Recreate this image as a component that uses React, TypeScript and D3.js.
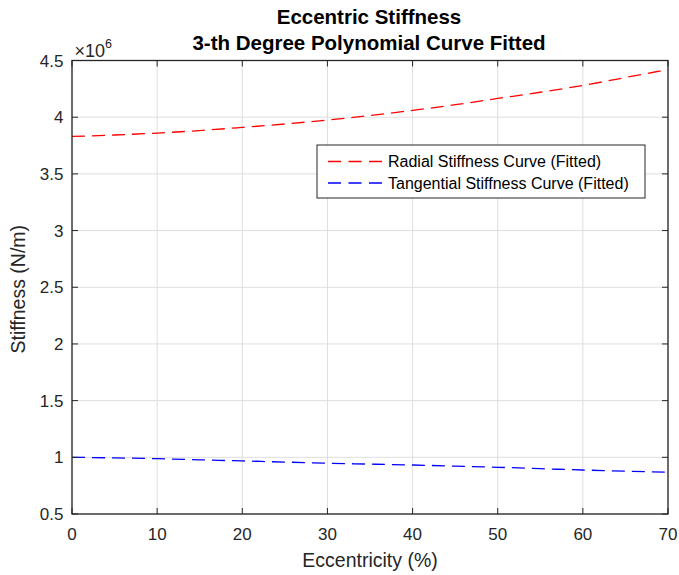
import React from "react";
import * as d3 from "d3";

const eccentricity = [0, 5, 10, 15, 20, 25, 30, 35, 40, 45, 50, 55, 60, 65, 70];
const radial = [3.83, 3.843, 3.86, 3.882, 3.91, 3.94, 3.975, 4.015, 4.06, 4.11, 4.165, 4.22, 4.28, 4.35, 4.42];
const tangential = [1.0, 0.995, 0.988, 0.978, 0.968, 0.958, 0.948, 0.94, 0.932, 0.922, 0.912, 0.9, 0.888, 0.878, 0.868];
const xTicks = [0, 10, 20, 30, 40, 50, 60, 70];
const yTicks = [0.5, 1, 1.5, 2, 2.5, 3, 3.5, 4, 4.5];
const seriesNames = ["Radial Stiffness Curve (Fitted)", "Tangential Stiffness Curve (Fitted)"];
const seriesColors = ["#ff0000", "#0000ff"];

const W = 679, H = 575;
const left = 72, right = 668, top = 60.5, bottom = 514;
const font = "'Liberation Sans', Arial, sans-serif";
const axisColor = "#262626";

export default function App() {
  const x = d3.scaleLinear().domain([0, 70]).range([left, right]);
  const y = d3.scaleLinear().domain([0.5, 4.5]).range([bottom, top]);
  const line = d3.line<[number, number]>().x(d => x(d[0])).y(d => y(d[1])).curve(d3.curveMonotoneX);
  const series = [radial, tangential].map(vals => eccentricity.map((e, i) => [e, vals[i]] as [number, number]));
  const tickLen = 6;
  const lx0 = 317, ly0 = 145, lw = 328, lh = 53;
  return (
    <svg width={W} height={H} style={{ position: "absolute", left: 0, top: 0, background: "#fff" }} fontFamily={font}>
      <rect x={0} y={0} width={W} height={H} fill="#fff" />
      {xTicks.map(t => (
        <line key={"gx" + t} x1={x(t)} x2={x(t)} y1={top} y2={bottom} stroke="#dedede" strokeWidth={1} />
      ))}
      {yTicks.map(t => (
        <line key={"gy" + t} x1={left} x2={right} y1={y(t)} y2={y(t)} stroke="#dedede" strokeWidth={1} />
      ))}
      {series.map((s, i) => (
        <path key={"s" + i} d={line(s) || ""} fill="none" stroke={seriesColors[i]} strokeWidth={1.3} strokeDasharray="13,7" />
      ))}
      <rect x={left} y={top} width={right - left} height={bottom - top} fill="none" stroke={axisColor} strokeWidth={1.3} />
      {xTicks.map(t => (
        <g key={"tx" + t}>
          <line x1={x(t)} x2={x(t)} y1={bottom} y2={bottom - tickLen} stroke={axisColor} />
          <line x1={x(t)} x2={x(t)} y1={top} y2={top + tickLen} stroke={axisColor} />
          <text x={x(t)} y={bottom + 26} textAnchor="middle" fontSize={17} fill={axisColor}>{t}</text>
        </g>
      ))}
      {yTicks.map(t => (
        <g key={"ty" + t}>
          <line x1={left} x2={left + tickLen} y1={y(t)} y2={y(t)} stroke={axisColor} />
          <line x1={right} x2={right - tickLen} y1={y(t)} y2={y(t)} stroke={axisColor} />
          <text x={left - 8.5} y={y(t) + 6} textAnchor="end" fontSize={17} fill={axisColor}>{t}</text>
        </g>
      ))}
      <text x={74.5} y={57} fontSize={18} fill={axisColor}>
        ×10<tspan dy={-9} fontSize={12.5}>6</tspan>
      </text>
      <text x={369} y={24} textAnchor="middle" fontSize={20.5} fontWeight="bold" fill="#000">Eccentric Stiffness</text>
      <text x={369} y={50} textAnchor="middle" fontSize={20.5} fontWeight="bold" fill="#000">3-th Degree Polynomial Curve Fitted</text>
      <text x={(left + right) / 2} y={567} textAnchor="middle" fontSize={19.5} fill={axisColor}>Eccentricity (%)</text>
      <text transform={`translate(25,${(top + bottom) / 2 + 2}) rotate(-90)`} textAnchor="middle" fontSize={19.5} fill={axisColor}>Stiffness (N/m)</text>
      <rect x={lx0} y={ly0} width={lw} height={lh} fill="#fff" stroke={axisColor} strokeWidth={1} />
      {seriesNames.map((n, i) => {
        const cy = ly0 + 16.5 + i * 21.5;
        return (
          <g key={"l" + i}>
            <line x1={328} x2={382} y1={cy} y2={cy} stroke={seriesColors[i]} strokeWidth={1.3} strokeDasharray="13,7.5" />
            <text x={388} y={cy + 5.8} fontSize={16} fill="#000">{n}</text>
          </g>
        );
      })}
    </svg>
  );
}
